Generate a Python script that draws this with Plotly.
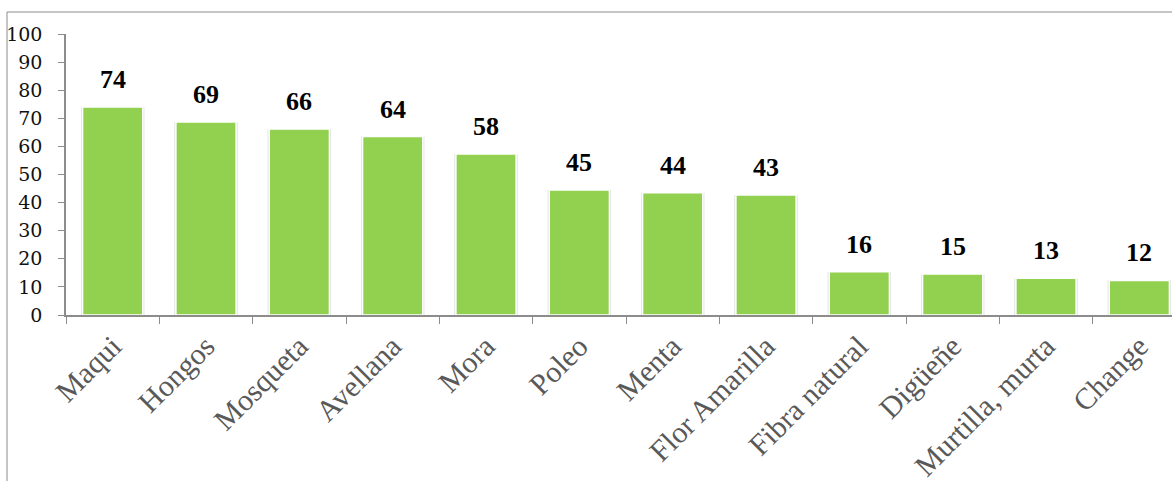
import plotly.graph_objects as go

categories = ["Maqui", "Hongos", "Mosqueta", "Avellana", "Mora", "Poleo", "Menta",
              "Flor Amarilla", "Fibra natural", "Digüeñe", "Murtilla, murta", "Change"]
values = [74.0, 68.7, 66.2, 63.5, 57.3, 44.5, 43.5, 42.7, 15.4, 14.6, 13.1, 12.3]
labels = ["74", "69", "66", "64", "58", "45", "44", "43", "16", "15", "13", "12"]
y_ticks = [0, 10, 20, 30, 40, 50, 60, 70, 80, 90, 100]

fig = go.Figure()
# soft shadow behind bars
fig.add_trace(go.Bar(x=categories, y=values, width=0.68,
                     marker=dict(color="rgba(190,190,190,0.45)", line=dict(width=0)),
                     hoverinfo="skip", showlegend=False))
fig.add_trace(go.Bar(x=categories, y=values, width=0.645,
                     marker=dict(color="#92D050", line=dict(color="white", width=1.5)),
                     showlegend=False))

for c, v, t in zip(categories, values, labels):
    fig.add_annotation(x=c, y=v, text=t, showarrow=False, yanchor="bottom",
                       yshift=11,
                       font=dict(family="Liberation Serif", size=26, color="black",
                                 weight="bold"))

fig.add_shape(type="rect", xref="paper", yref="paper",
              x0=(7 - 66) / 1106, x1=1.2, y0=-1.0, y1=1 + (34 - 12) / 281,
              line=dict(color="#8c8c8c", width=1), fillcolor="rgba(0,0,0,0)", layer="below")

fig.update_layout(
    width=1172, height=481, barmode="overlay",
    margin=dict(l=66, r=0, t=34, b=166, autoexpand=False),
    paper_bgcolor="white", plot_bgcolor="white",
    xaxis=dict(range=[-0.5, 11.35], tickson="boundaries", ticks="outside", ticklen=7,
               tickcolor="#8c8c8c", showline=True, linecolor="#8c8c8c", linewidth=1.5,
               tickangle=-45, showgrid=False, automargin=False,
               tickfont=dict(family="Liberation Serif", size=30, color="#595959")),
    yaxis=dict(range=[0, 100], tickvals=y_ticks, ticks="outside", ticklen=6,
               tickcolor="#8c8c8c", showline=True, linecolor="#8c8c8c", linewidth=1.5,
               showgrid=False, zeroline=False, ticklabelstandoff=12, automargin=False,
               tickfont=dict(family="DejaVu Serif", size=19, color="#111111")),
)

fig.write_html("out.html", config={"displayModeBar": False},
               post_script="document.body.style.margin='0';document.body.style.overflow='hidden';")
